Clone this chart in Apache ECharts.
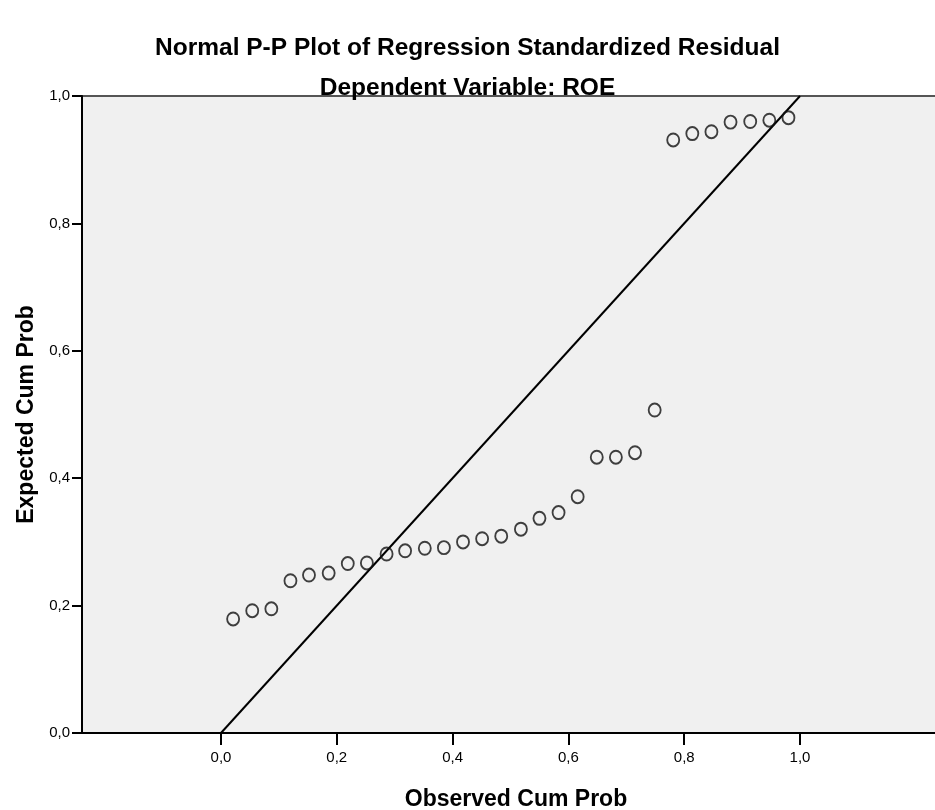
<!DOCTYPE html>
<html>
<head>
<meta charset="utf-8">
<script src="https://cdn.jsdelivr.net/npm/echarts@6/dist/echarts.min.js"></script>
<style>
html,body{margin:0;padding:0;background:#fff;}
#c{width:935px;height:810px;}
</style>
</head>
<body>
<div id="c"></div>
<script>
const observed = [0.021,0.054,0.087,0.120,0.152,0.186,0.219,0.252,0.286,0.318,0.352,0.385,0.418,0.451,0.484,0.518,0.550,0.583,0.616,0.649,0.682,0.715,0.749,0.781,0.814,0.847,0.880,0.914,0.947,0.980];
const expected = [0.179,0.192,0.195,0.239,0.248,0.251,0.266,0.267,0.281,0.286,0.290,0.291,0.300,0.305,0.309,0.320,0.337,0.346,0.371,0.433,0.433,0.440,0.507,0.931,0.941,0.944,0.959,0.960,0.962,0.966];
const refLine = [[0,0],[1,1]];
const tickValues = [0,0.2,0.4,0.6,0.8,1.0];

const points = observed.map((x,i)=>[x,expected[i]]);
const fmt = v => v.toFixed(1).replace('.', ',');
const font = '"Liberation Sans", Arial, sans-serif';

const chart = echarts.init(document.getElementById('c'));
chart.setOption({
  animation:false,
  backgroundColor:'#ffffff',
  title:[
    {text:'Normal P-P Plot of Regression Standardized Residual',left:'center',top:31,
     textStyle:{fontFamily:font,fontSize:24.5,fontWeight:'bold',color:'#000'}},
    {text:'Dependent Variable: ROE',left:'center',top:71,
     textStyle:{fontFamily:font,fontSize:24.5,fontWeight:'bold',color:'#000'}}
  ],
  grid:{left:82,top:96,width:868,height:637,outerBoundsMode:'none',containLabel:false,
        show:true,backgroundColor:'#f0f0f0',borderColor:'#555',borderWidth:2},
  xAxis:{
    type:'value',min:-0.24,max:1.259,
    name:'Observed Cum Prob',nameLocation:'middle',nameGap:55,
    nameTextStyle:{fontFamily:font,fontSize:23,fontWeight:'bold',color:'#000'},
    axisLine:{show:true,onZero:false,lineStyle:{color:'#000',width:2}},
    axisTick:{show:true,customValues:tickValues,length:12,lineStyle:{color:'#000',width:2}},
    axisLabel:{customValues:tickValues,formatter:fmt,fontFamily:font,fontSize:15,color:'#000',margin:17},
    splitLine:{show:false}
  },
  yAxis:{
    type:'value',min:0,max:1,interval:0.2,
    name:'Expected Cum Prob',nameLocation:'middle',nameGap:44,
    nameTextStyle:{fontFamily:font,fontSize:23,fontWeight:'bold',color:'#000'},
    axisLine:{show:true,onZero:false,lineStyle:{color:'#000',width:2}},
    axisTick:{show:true,length:10,lineStyle:{color:'#000',width:2}},
    axisLabel:{formatter:fmt,fontFamily:font,fontSize:15,color:'#000',margin:12},
    splitLine:{show:false}
  },
  series:[
    {type:'line',data:refLine,symbol:'none',lineStyle:{color:'#000',width:2},z:2},
    {type:'scatter',data:points,symbol:'circle',symbolSize:[12,13],
     itemStyle:{color:'rgba(0,0,0,0)',borderColor:'#111',borderWidth:1.9},z:3}
  ]
});
</script>
</body>
</html>
